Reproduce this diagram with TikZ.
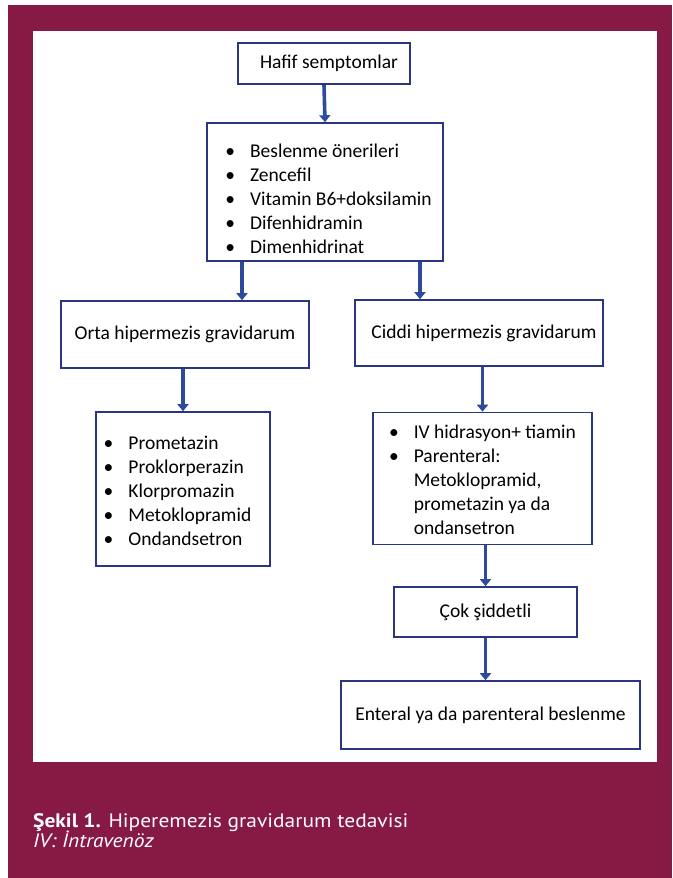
\documentclass[tikz,border=0pt]{standalone}
\usepackage{fontspec}
\setmainfont{Carlito}
\newfontfamily\capfont[FakeStretch=1.10]{PT Sans}
\usetikzlibrary{arrows.meta}
\definecolor{maroon}{HTML}{861A45}
\definecolor{navy}{HTML}{2B3580}
\definecolor{arrblue}{HTML}{2E4A9C}
\begin{document}
\begin{tikzpicture}
  \tikzset{
    mybox/.style={
      draw=navy,
      line width=1.6pt,
      fill=white,
      inner sep=0pt,
      font=\fontsize{19.5}{24}\selectfont,
      text centered
    },
    myarrow/.style={
      draw=arrblue,
      line width=3.6pt,
      -{Triangle[width=11pt,length=7pt]}
    }
  }
  % #1 left pad, #2 top pad, #3 items
  \newcommand{\blist}[3]{\hspace*{#1}\begin{tabular}{@{}l@{\hspace{15pt}}l@{}}\noalign{\vspace{#2}}#3\end{tabular}}

  \fill[white] (0pt,0pt) rectangle (672pt,-878pt);
  \fill[maroon] (8pt,-5pt) rectangle (672pt,-878pt);
  \fill[white] (33pt,-31pt) rectangle (657pt,-762pt);

  \node[mybox, minimum width=172pt, minimum height=41pt] (hafif) at (324pt,-63.5pt) {\hspace{10pt}Hafif semptomlar};
  \node[mybox, minimum width=236pt, minimum height=138pt] (oneri) at (325pt,-192pt)
    {\blist{7pt}{18pt}{\textbullet & Beslenme önerileri\\ \textbullet & Zencefil\\ \textbullet & Vitamin B6+doksilamin\\ \textbullet & Difenhidramin\\ \textbullet & Dimenhidrinat}};
  \node[mybox, minimum width=248pt, minimum height=67pt] (orta) at (185pt,-334.5pt) {Orta hipermezis gravidarum};
  \node[mybox, minimum width=248pt, minimum height=66pt] (ciddi) at (479pt,-333pt) {\hspace{10pt}Ciddi hipermezis gravidarum};
  \node[mybox, minimum width=174pt, minimum height=154pt] (prom) at (183pt,-489pt)
    {\blist{-11pt}{8pt}{\textbullet & Prometazin\\ \textbullet & Proklorperazin\\ \textbullet & Klorpromazin\\ \textbullet & Metoklopramid\\ \textbullet & Ondandsetron}};
  \node[mybox, minimum width=219pt, minimum height=132pt] (iv) at (482.5pt,-478.5pt)
    {\blist{0pt}{6pt}{\textbullet & IV hidrasyon+ tiamin\\ \textbullet & Parenteral:\\ & Metoklopramid,\\ & prometazin ya da\\ & ondansetron}};
  \node[mybox, minimum width=183pt, minimum height=50pt] (cok) at (485.5pt,-612pt) {Çok şiddetli};
  \node[mybox, minimum width=299pt, minimum height=68pt] (enteral) at (490.5pt,-715pt) {Enteral ya da parenteral beslenme};

  \draw[myarrow] (hafif.south) -- (oneri.north);
  \draw[myarrow] ([xshift=-83pt]oneri.south) -- ([xshift=-83pt]oneri.south |- orta.north);
  \draw[myarrow] ([xshift=95pt]oneri.south) -- ([xshift=95pt]oneri.south |- ciddi.north);
  \draw[myarrow] (prom.north |- orta.south) -- (prom.north);
  \draw[myarrow] (iv.north |- ciddi.south) -- (iv.north);
  \draw[myarrow] (cok.north |- iv.south) -- (cok.north);
  \draw[myarrow] (cok.south) -- (cok.south |- enteral.north);

  \node[anchor=base west, text=white, inner sep=0pt, font=\capfont\fontsize{19.5}{24}\selectfont] (sekil) at (33pt,-827pt)
    {\textbf{Şekil 1.} Hiperemezis gravidarum tedavisi};
  \node[anchor=base west, text=white, inner sep=0pt, font=\capfont\itshape\fontsize{19.5}{24}\selectfont] (iv note) at (33pt,-847pt)
    {IV: İntravenöz};
\end{tikzpicture}
\end{document}
